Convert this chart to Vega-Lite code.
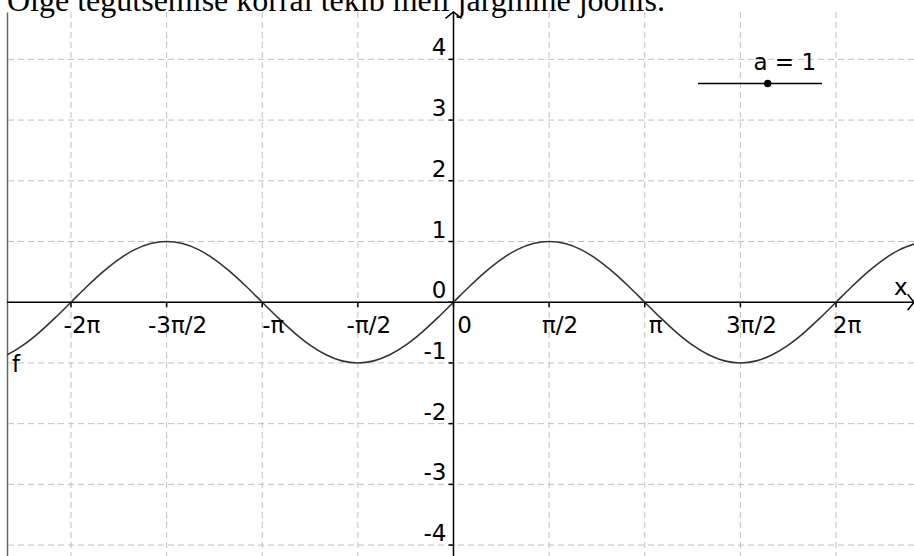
{
  "$schema": "https://vega.github.io/schema/vega-lite/v6.json",
  "width": 907,
  "height": 544,
  "autosize": {"type": "none"},
  "padding": {"left": 7, "top": 12, "right": 0, "bottom": 0},
  "background": "white",
  "config": {
    "view": {"stroke": null},
    "axis": {"labels": false, "ticks": false, "grid": false, "domain": false},
    "axisY": {"domain": true, "domainColor": "#666", "domainWidth": 1.5}
  },
  "datasets": {
    "curve": [
      {"x": -7.5922, "y": -0.966}, {"x": -7.3304, "y": -0.866}, {"x": -7.0686, "y": -0.707}, {"x": -6.8068, "y": -0.5},
      {"x": -6.545, "y": -0.259}, {"x": -6.2832, "y": 0}, {"x": -6.0214, "y": 0.259}, {"x": -5.7596, "y": 0.5},
      {"x": -5.4978, "y": 0.707}, {"x": -5.236, "y": 0.866}, {"x": -4.9742, "y": 0.966}, {"x": -4.7124, "y": 1},
      {"x": -4.4506, "y": 0.966}, {"x": -4.1888, "y": 0.866}, {"x": -3.927, "y": 0.707}, {"x": -3.6652, "y": 0.5},
      {"x": -3.4034, "y": 0.259}, {"x": -3.1416, "y": 0}, {"x": -2.8798, "y": -0.259}, {"x": -2.618, "y": -0.5},
      {"x": -2.3562, "y": -0.707}, {"x": -2.0944, "y": -0.866}, {"x": -1.8326, "y": -0.966}, {"x": -1.5708, "y": -1},
      {"x": -1.309, "y": -0.966}, {"x": -1.0472, "y": -0.866}, {"x": -0.7854, "y": -0.707}, {"x": -0.5236, "y": -0.5},
      {"x": -0.2618, "y": -0.259}, {"x": 0, "y": 0}, {"x": 0.2618, "y": 0.259}, {"x": 0.5236, "y": 0.5},
      {"x": 0.7854, "y": 0.707}, {"x": 1.0472, "y": 0.866}, {"x": 1.309, "y": 0.966}, {"x": 1.5708, "y": 1},
      {"x": 1.8326, "y": 0.966}, {"x": 2.0944, "y": 0.866}, {"x": 2.3562, "y": 0.707}, {"x": 2.618, "y": 0.5},
      {"x": 2.8798, "y": 0.259}, {"x": 3.1416, "y": 0}, {"x": 3.4034, "y": -0.259}, {"x": 3.6652, "y": -0.5},
      {"x": 3.927, "y": -0.707}, {"x": 4.1888, "y": -0.866}, {"x": 4.4506, "y": -0.966}, {"x": 4.7124, "y": -1},
      {"x": 4.9742, "y": -0.966}, {"x": 5.236, "y": -0.866}, {"x": 5.4978, "y": -0.707}, {"x": 5.7596, "y": -0.5},
      {"x": 6.0214, "y": -0.259}, {"x": 6.2832, "y": 0}, {"x": 6.545, "y": 0.259}, {"x": 6.8068, "y": 0.5},
      {"x": 7.0686, "y": 0.707}, {"x": 7.3304, "y": 0.866}, {"x": 7.5922, "y": 0.966}
    ],
    "xticks": [
      {"x": -6.2832, "label": "-2π"}, {"x": -4.7124, "label": "-3π/2"}, {"x": -3.1416, "label": "-π"},
      {"x": -1.5708, "label": "-π/2"}, {"x": 0, "label": "0"}, {"x": 1.5708, "label": "π/2"},
      {"x": 3.1416, "label": "π"}, {"x": 4.7124, "label": "3π/2"}, {"x": 6.2832, "label": "2π"}
    ],
    "yticks": [
      {"y": 4, "label": "4"}, {"y": 3, "label": "3"}, {"y": 2, "label": "2"}, {"y": 1, "label": "1"},
      {"y": 0, "label": "0"}, {"y": -1, "label": "-1"}, {"y": -2, "label": "-2"}, {"y": -3, "label": "-3"},
      {"y": -4, "label": "-4"}
    ],
    "names": [
      {"x": -7.252, "y": -1.153, "label": "f"},
      {"x": 7.236, "y": 0.115, "label": "x"}
    ],
    "slider": [
      {"x": 4.016, "x2": 6.053, "y": 3.603, "value": 5.161, "label": "a = 1"}
    ],
    "ends": [
      {"x": 0, "y": 4.78, "axis": "y"},
      {"x": 7.564, "y": 0, "axis": "x"}
    ],
    "caption": [
      {"text": "Õige tegutsemise korral tekib meil järgmine joonis."}
    ]
  },
  "layer": [
    {
      "data": {"name": "xticks"},
      "mark": {"type": "rule", "color": "#c0c0c0", "strokeWidth": 1, "strokeDash": [6, 4]},
      "encoding": {
        "x": {"field": "x", "type": "quantitative", "title": null,
              "scale": {"domain": [-7.334, 7.564], "nice": false, "zero": false}}
      }
    },
    {
      "data": {"name": "yticks"},
      "mark": {"type": "rule", "color": "#c0c0c0", "strokeWidth": 1, "strokeDash": [6, 4]},
      "encoding": {
        "y": {"field": "y", "type": "quantitative", "title": null,
              "scale": {"domain": [-4.18, 4.78], "nice": false, "zero": false}}
      }
    },
    {
      "data": {"values": [{"x": 0}]},
      "mark": {"type": "rule", "color": "#000", "strokeWidth": 1.5},
      "encoding": {"x": {"field": "x", "type": "quantitative", "title": null}}
    },
    {
      "data": {"values": [{"y": 0}]},
      "mark": {"type": "rule", "color": "#000", "strokeWidth": 1.5},
      "encoding": {"y": {"field": "y", "type": "quantitative", "title": null}}
    },
    {
      "data": {"name": "curve"},
      "mark": {"type": "line", "color": "#333", "strokeWidth": 1.6, "interpolate": "monotone", "clip": true},
      "encoding": {
        "x": {"field": "x", "type": "quantitative", "title": null},
        "y": {"field": "y", "type": "quantitative", "title": null}
      }
    },
    {
      "data": {"name": "xticks"},
      "mark": {"type": "point", "shape": "M 0 0 L 0 1", "filled": false, "color": "#000", "strokeWidth": 1.5, "opacity": 1, "size": 100},
      "encoding": {
        "x": {"field": "x", "type": "quantitative", "title": null},
        "y": {"datum": 0, "type": "quantitative", "title": null}
      }
    },
    {
      "data": {"name": "yticks"},
      "mark": {"type": "point", "shape": "M 0 0 L -1 0", "filled": false, "color": "#000", "strokeWidth": 1.5, "opacity": 1, "size": 100},
      "encoding": {
        "x": {"datum": 0, "type": "quantitative", "title": null},
        "y": {"field": "y", "type": "quantitative", "title": null}
      }
    },
    {
      "data": {"name": "xticks"},
      "mark": {"type": "text", "font": "DejaVu Sans", "fontSize": 23, "align": "center", "baseline": "alphabetic", "dx": 11, "dy": 31, "color": "#000"},
      "encoding": {
        "x": {"field": "x", "type": "quantitative", "title": null},
        "y": {"datum": 0, "type": "quantitative", "title": null},
        "text": {"field": "label"}
      }
    },
    {
      "data": {"name": "yticks"},
      "mark": {"type": "text", "font": "DejaVu Sans", "fontSize": 23, "align": "right", "baseline": "alphabetic", "dx": -7, "dy": -4, "color": "#000"},
      "encoding": {
        "x": {"datum": 0, "type": "quantitative", "title": null},
        "y": {"field": "y", "type": "quantitative", "title": null},
        "text": {"field": "label"}
      }
    },
    {
      "data": {"name": "names"},
      "mark": {"type": "text", "font": "DejaVu Sans", "fontSize": 23, "align": "left", "baseline": "alphabetic", "color": "#000"},
      "encoding": {
        "x": {"field": "x", "type": "quantitative", "title": null},
        "y": {"field": "y", "type": "quantitative", "title": null},
        "text": {"field": "label"}
      }
    },
    {
      "data": {"name": "ends"},
      "transform": [{"filter": "datum.axis === 'y'"}],
      "mark": {"type": "point", "shape": "M -1 0.8 L 0 0 L 1 0.8", "filled": false, "color": "#000", "strokeWidth": 1.5, "opacity": 1, "size": 256},
      "encoding": {
        "x": {"field": "x", "type": "quantitative", "title": null},
        "y": {"field": "y", "type": "quantitative", "title": null}
      }
    },
    {
      "data": {"name": "ends"},
      "transform": [{"filter": "datum.axis === 'x'"}],
      "mark": {"type": "point", "shape": "M -0.8 -1 L 0 0 L -0.8 1", "filled": false, "color": "#000", "strokeWidth": 1.5, "opacity": 1, "size": 256},
      "encoding": {
        "x": {"field": "x", "type": "quantitative", "title": null},
        "y": {"field": "y", "type": "quantitative", "title": null}
      }
    },
    {
      "data": {"name": "slider"},
      "mark": {"type": "rule", "color": "#000", "strokeWidth": 1.5},
      "encoding": {
        "x": {"field": "x", "type": "quantitative", "title": null},
        "x2": {"field": "x2"},
        "y": {"field": "y", "type": "quantitative", "title": null}
      }
    },
    {
      "data": {"name": "slider"},
      "mark": {"type": "point", "shape": "circle", "filled": true, "color": "#000", "opacity": 1, "size": 55},
      "encoding": {
        "x": {"field": "value", "type": "quantitative", "title": null},
        "y": {"field": "y", "type": "quantitative", "title": null}
      }
    },
    {
      "data": {"name": "slider"},
      "mark": {"type": "text", "font": "DejaVu Sans", "fontSize": 23, "align": "center", "baseline": "alphabetic", "dx": 17, "dy": -13, "color": "#000"},
      "encoding": {
        "x": {"field": "value", "type": "quantitative", "title": null},
        "y": {"field": "y", "type": "quantitative", "title": null},
        "text": {"field": "label"}
      }
    },
    {
      "data": {"name": "caption"},
      "mark": {"type": "text", "font": "Liberation Serif", "fontSize": 32, "align": "left", "baseline": "alphabetic", "dx": 0, "dy": -1, "color": "#000"},
      "encoding": {
        "x": {"datum": -7.334, "type": "quantitative", "title": null},
        "y": {"datum": 4.78, "type": "quantitative", "title": null},
        "text": {"field": "text"}
      }
    }
  ]
}
